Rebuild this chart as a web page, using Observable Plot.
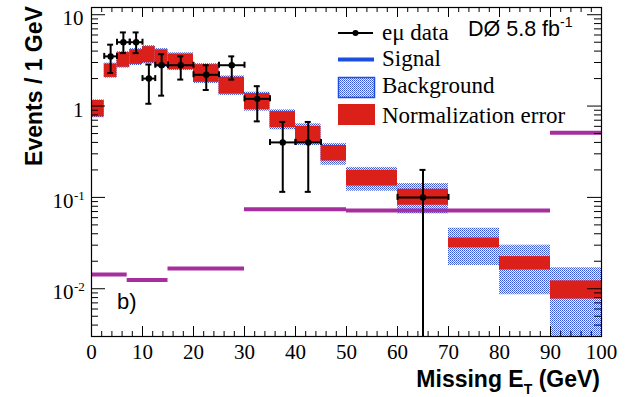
<!DOCTYPE html>
<html><head><meta charset="utf-8">
<script src="https://cdn.jsdelivr.net/npm/d3@7"></script>
<script src="https://cdn.jsdelivr.net/npm/@observablehq/plot@0.6"></script>
<style>html,body{margin:0;padding:0;background:#fff}</style>
</head><body><div id="chart"></div>
<script>
// ---- data ----
const binLo  = [0, 2.5, 5, 7.5, 10, 12.5, 15, 20, 25, 30, 35, 40, 45, 50, 60, 70, 80, 90];
const binHi  = [2.5, 5, 7.5, 10, 12.5, 15, 20, 25, 30, 35, 40, 45, 50, 60, 70, 80, 90, 100];
const normLo = [0.76, 2.06, 2.66, 2.86, 2.97, 2.72, 2.5, 1.82, 1.35, 0.91, 0.58, 0.40, 0.25, 0.133, 0.082, 0.028, 0.016, 0.0077];
const normHi = [1.15, 2.89, 3.85, 4.14, 4.47, 4.13, 3.72, 2.84, 2.07, 1.37, 0.87, 0.60, 0.37, 0.198, 0.123, 0.036, 0.0225, 0.0122];
const bkgLo  = [0.745, 2.02, 2.6, 2.78, 2.9, 2.66, 2.45, 1.77, 1.31, 0.88, 0.55, 0.37, 0.225, 0.117, 0.066, 0.018, 0.0086, 0.001];
const bkgHi  = [1.17, 2.95, 3.95, 4.25, 4.6, 4.25, 3.82, 2.92, 2.14, 1.42, 0.91, 0.64, 0.39, 0.213, 0.142, 0.046, 0.030, 0.017];

const dataX   = [3.75, 6.25, 8.75, 11.25, 13.75, 17.5, 22.5, 27.5, 32.5, 37.5, 42.5, 65];
const dataXlo = [2.5, 5, 7.5, 10, 12.5, 15, 20, 25, 30, 35, 40, 60];
const dataXhi = [5, 7.5, 10, 12.5, 15, 20, 25, 30, 35, 40, 45, 70];
const dataY   = [3.5, 5.0, 5.0, 2.0, 2.8, 2.8, 2.2, 2.8, 1.2, 0.4, 0.4, 0.1];
const dataYlo = [2.3, 3.8, 3.8, 1.06, 1.3, 1.95, 1.5, 1.95, 0.68, 0.115, 0.115, 0.001];
const dataYhi = [4.7, 6.4, 6.4, 2.85, 3.7, 3.5, 2.8, 3.5, 1.65, 0.67, 0.67, 0.2];

const sigX1 = [0, 7, 15, 30, 50, 90];
const sigX2 = [7, 15, 30, 50, 90, 100];
const sigY  = [0.0143, 0.0125, 0.0167, 0.074, 0.072, 0.51];

const xTickValues = [0, 10, 20, 30, 40, 50, 60, 70, 80, 90, 100];
const yTickValues = [10, 1, 0.1, 0.01];
const yTickBase   = ["10", "1", "10", "10"];
const yTickExp    = ["", "", "-1", "-2"];

// ---- build tables ----
const bins = binLo.map((lo, i) => ({x1: lo, x2: binHi[i], nlo: normLo[i], nhi: normHi[i], blo: bkgLo[i], bhi: bkgHi[i]}));
const pts = dataX.map((x, i) => ({x, xlo: dataXlo[i], xhi: dataXhi[i], y: dataY[i], ylo: dataYlo[i], yhi: dataYhi[i]}));
const sig = sigX1.map((a, i) => ({x1: a, x2: sigX2[i], y: sigY[i]}));
const yLabels = yTickValues.map((v, i) => ({v, base: yTickBase[i], exp: yTickExp[i]}));

const W = 634, H = 397, mL = 91, mR = 33, mT = 7, mB = 61;
const plotH = H - mT - mB, plotW = W - mL - mR;
const yDomain = [0.003, 12];
const xMinor = d3.range(0, 101, 2).filter(d => d % 10 !== 0);
const yMinor = [];
for (const e of [-3, -2, -1, 0]) for (let k = 2; k <= 9; k++) {
  const v = +(k * Math.pow(10, e)).toPrecision(3);
  if (v >= yDomain[0] && v <= yDomain[1]) yMinor.push(v);
}
const red = "#da2019", magenta = "#a62e9e", blue = "#1c4fe0";
const serif = "Liberation Serif", sans = "Liberation Sans";

const chart = Plot.plot({
  width: W, height: H,
  marginLeft: mL, marginRight: mR, marginTop: mT, marginBottom: mB,
  x: {domain: [0, 100], axis: null},
  y: {type: "log", domain: yDomain, axis: null},
  style: {background: "white"},
  marks: [
    Plot.rect(bins, {x1: "x1", x2: "x2", y1: "blo", y2: "bhi", fill: "url(#bgHatch)", clip: true}),
    Plot.rect(bins, {x1: "x1", x2: "x2", y1: "nlo", y2: "nhi", fill: red}),
    Plot.ruleY(sig, {x1: "x1", x2: "x2", y: "y", stroke: magenta, strokeWidth: 4}),
    // data error bars
    Plot.ruleY(pts, {x1: "xlo", x2: "xhi", y: "y", stroke: "black", strokeWidth: 2}),
    Plot.ruleX(pts, {x: "x", y1: "ylo", y2: "yhi", stroke: "black", strokeWidth: 2, clip: true}),
    Plot.ruleY(pts, {x1: "x", x2: "x", y: "yhi", insetLeft: -3, insetRight: -3, stroke: "black", strokeWidth: 2}),
    Plot.ruleY(pts.filter(d => d.ylo >= yDomain[0]), {x1: "x", x2: "x", y: "ylo", insetLeft: -3, insetRight: -3, stroke: "black", strokeWidth: 2}),
    Plot.ruleX(pts, {x: "xlo", y1: "y", y2: "y", insetTop: -3, insetBottom: -3, stroke: "black", strokeWidth: 2}),
    Plot.ruleX(pts, {x: "xhi", y1: "y", y2: "y", insetTop: -3, insetBottom: -3, stroke: "black", strokeWidth: 2}),
    Plot.dot(pts, {x: "x", y: "y", r: 3.2, fill: "black", stroke: "none"}),
    // frame and inward ticks
    Plot.frame({stroke: "black", strokeWidth: 1.2}),
    Plot.ruleX(xTickValues, {x: d => d, insetTop: plotH - 10, stroke: "black"}),
    Plot.ruleX(xTickValues, {x: d => d, insetBottom: plotH - 10, stroke: "black"}),
    Plot.ruleX(xMinor, {x: d => d, insetTop: plotH - 5, stroke: "black"}),
    Plot.ruleX(xMinor, {x: d => d, insetBottom: plotH - 5, stroke: "black"}),
    Plot.ruleY(yTickValues, {y: d => d, insetRight: plotW - 14, stroke: "black"}),
    Plot.ruleY(yTickValues, {y: d => d, insetLeft: plotW - 14, stroke: "black"}),
    Plot.ruleY(yMinor, {y: d => d, insetRight: plotW - 7, stroke: "black"}),
    Plot.ruleY(yMinor, {y: d => d, insetLeft: plotW - 7, stroke: "black"}),
    // tick labels
    Plot.text(xTickValues, {x: d => d, frameAnchor: "bottom", dy: 16, text: d => String(d), fontSize: 21, fontFamily: serif, fill: "black", lineAnchor: "middle"}),
    Plot.text(yLabels.filter(d => !d.exp), {y: "v", frameAnchor: "left", dx: -8, dy: 4, text: "base", textAnchor: "end", fontSize: 21, fontFamily: serif, fill: "black", lineAnchor: "middle"}),
    Plot.text(yLabels.filter(d => d.exp), {y: "v", frameAnchor: "left", dx: -18, dy: 4, text: "base", textAnchor: "end", fontSize: 21, fontFamily: serif, fill: "black", lineAnchor: "middle"}),
    Plot.text(yLabels.filter(d => d.exp), {y: "v", frameAnchor: "left", dx: -17.5, dy: -2, text: "exp", textAnchor: "start", fontSize: 13, fontFamily: serif, fill: "black", lineAnchor: "middle"})
  ]
});
document.getElementById("chart").appendChild(chart);

// ---- pattern, legend and titles ----
const svg = d3.select(chart);
const defs = svg.insert("defs", ":first-child");
const pat = defs.append("pattern").attr("id", "bgHatch").attr("patternUnits", "userSpaceOnUse").attr("width", 2).attr("height", 2);
pat.append("rect").attr("width", 2).attr("height", 2).attr("fill", "#f2f4fc");
pat.append("rect").attr("x", 0).attr("y", 0).attr("width", 1).attr("height", 1).attr("fill", "#3352d4");
pat.append("rect").attr("x", 1).attr("y", 1).attr("width", 1).attr("height", 1).attr("fill", "#5a74dc");

const g = svg.append("g").attr("text-anchor", "start");
// legend
g.append("line").attr("x1", 338).attr("x2", 373).attr("y1", 33).attr("y2", 33).attr("stroke", "black").attr("stroke-width", 2);
g.append("circle").attr("cx", 355.5).attr("cy", 33).attr("r", 3).attr("fill", "black");
g.append("line").attr("x1", 338).attr("x2", 374).attr("y1", 59.5).attr("y2", 59.5).attr("stroke", blue).attr("stroke-width", 4);
g.append("rect").attr("x", 338.5).attr("y", 77.5).attr("width", 36).attr("height", 20).attr("fill", "url(#bgHatch)").attr("stroke", blue).attr("stroke-width", 1.5);
g.append("rect").attr("x", 338).attr("y", 104).attr("width", 37).attr("height", 21).attr("fill", red);
const legTexts = [["eμ data", 39.5], ["Signal", 65.5], ["Background", 92.5], ["Normalization error", 122.5]];
for (const [t, yb] of legTexts) {
  g.append("text").attr("x", 382).attr("y", yb).attr("text-anchor", "start").attr("font-family", serif).attr("font-size", 23).attr("fill", "black").text(t);
}
// experiment label
const dz = g.append("text").attr("x", 468).attr("y", 36).attr("text-anchor", "start").attr("font-family", sans).attr("font-size", 21.5).attr("fill", "black");
dz.append("tspan").text("DØ 5.8 fb");
dz.append("tspan").attr("font-size", 14).attr("dy", -9).text("-1");
// panel label
g.append("text").attr("x", 117).attr("y", 309).attr("text-anchor", "start").attr("font-family", sans).attr("font-size", 22).attr("fill", "black").text("b)");
// axis titles
g.append("text").attr("transform", "translate(42,86) rotate(-90)").attr("text-anchor", "middle")
  .attr("font-family", sans).attr("font-weight", "bold").attr("font-size", 23).attr("fill", "black").text("Events / 1 GeV");
const xt = g.append("text").attr("x", 600).attr("y", 387).attr("text-anchor", "end")
  .attr("font-family", sans).attr("font-weight", "bold").attr("font-size", 23).attr("fill", "black");
xt.append("tspan").text("Missing E");
xt.append("tspan").attr("font-size", 14).attr("dy", 7).text("T");
xt.append("tspan").attr("dy", -7).text(" (GeV)");
</script>
</body></html>
